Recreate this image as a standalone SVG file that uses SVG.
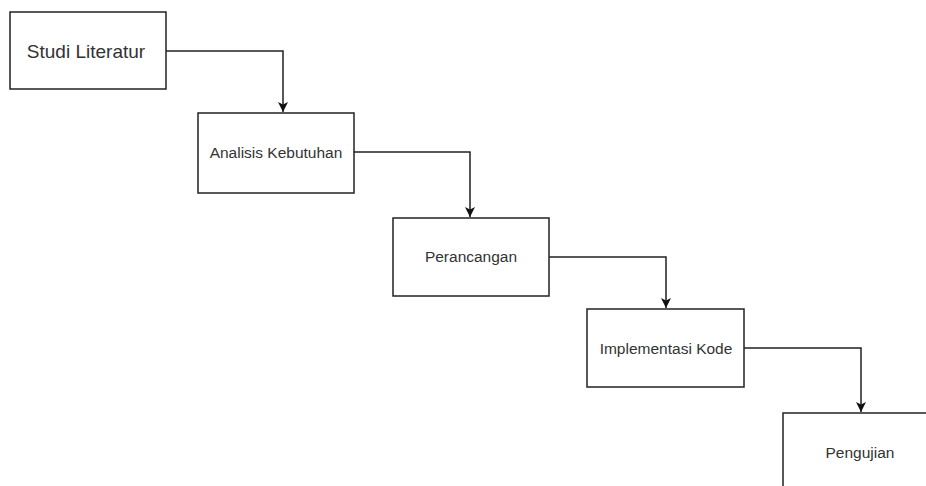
<svg xmlns="http://www.w3.org/2000/svg" width="926" height="486" viewBox="0 0 926 486">
<defs>
<style>
.box{fill:#fff;stroke:#222;stroke-width:1.5}
.lbl{font-family:"Liberation Sans",Arial,sans-serif;font-size:15.5px;fill:#333;text-anchor:middle;dominant-baseline:central}
.big{font-size:19px}
.edge{fill:none;stroke:#222;stroke-width:1.5}
</style>
<marker id="arr" markerWidth="12" markerHeight="12" refX="10" refY="6" orient="auto" markerUnits="userSpaceOnUse">
<path d="M0,1 L10,6 L0,11 L2.5,6 Z" fill="#111"/>
</marker>
</defs>
<rect width="926" height="486" fill="#fff"/>
<g id="connectors">
<path class="edge" d="M166,51 H283 V112" marker-end="url(#arr)"/>
<path class="edge" d="M354,152 H470 V217" marker-end="url(#arr)"/>
<path class="edge" d="M549,257 H666 V308" marker-end="url(#arr)"/>
<path class="edge" d="M744,348 H861 V412" marker-end="url(#arr)"/>
</g>
<g id="n1"><rect class="box" x="10" y="12" width="156" height="77"/><text class="lbl big" x="86" y="51">Studi Literatur</text></g>
<g id="n2"><rect class="box" x="198" y="113" width="156" height="80"/><text class="lbl" x="276" y="152">Analisis Kebutuhan</text></g>
<g id="n3"><rect class="box" x="393" y="218" width="156" height="78"/><text class="lbl" x="471" y="256">Perancangan</text></g>
<g id="n4"><rect class="box" x="587" y="309" width="157" height="78"/><text class="lbl" x="666" y="348">Implementasi Kode</text></g>
<g id="n5"><rect class="box" x="783" y="413" width="156" height="80"/><text class="lbl" x="860" y="452">Pengujian</text></g>
</svg>
